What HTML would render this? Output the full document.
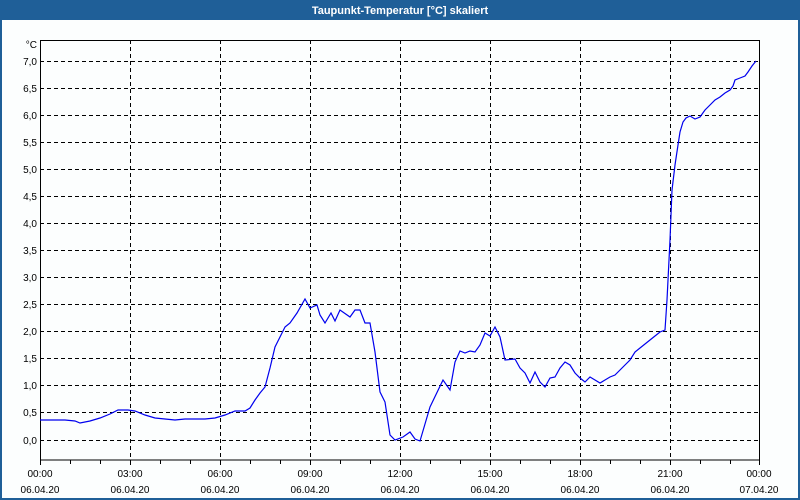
<!DOCTYPE html>
<html><head><meta charset="utf-8"><style>
html,body{margin:0;padding:0;background:#fff}
body{width:800px;height:500px;overflow:hidden;position:relative;font-family:"Liberation Sans",sans-serif}
</style></head><body>
<svg width="800" height="500" xmlns="http://www.w3.org/2000/svg" style="position:absolute;left:0;top:0">
<rect x="0" y="0" width="800" height="500" fill="#1f5f98"/>
<rect x="2" y="20" width="796" height="478" fill="#fcfefe"/>
<text x="400" y="14" fill="#fff" font-size="11" font-weight="bold" text-anchor="middle" font-family="Liberation Sans,sans-serif">Taupunkt-Temperatur [°C] skaliert</text>
<g stroke="#000" stroke-width="1" stroke-dasharray="4,3" fill="none">
<path d="M40 61.5H760M40 88.5H760M40 115.5H760M40 142.5H760M40 169.5H760M40 196.5H760M40 223.5H760M40 250.5H760M40 277.5H760M40 304.5H760M40 331.5H760M40 358.5H760M40 385.5H760M40 412.5H760M40 440.5H760"/>
<path d="M130.5 40V460M220.5 40V460M310.5 40V460M400.5 40V460M490.5 40V460M580.5 40V460M670.5 40V460"/>
</g>
<rect x="40.5" y="40.5" width="719" height="419.5" fill="none" stroke="#000"/>
<g stroke="#000"><path d="M40.5 460V465M70.5 460V464M100.5 460V464M130.5 460V465M160.5 460V464M190.5 460V464M220.5 460V465M250.5 460V464M280.5 460V464M310.5 460V465M340.5 460V464M370.5 460V464M400.5 460V465M430.5 460V464M460.5 460V464M490.5 460V465M520.5 460V464M550.5 460V464M580.5 460V465M610.5 460V464M640.5 460V464M670.5 460V465M700.5 460V464M730.5 460V464M759.5 460V465"/></g>
<g font-size="10" fill="#000" text-anchor="end" font-family="Liberation Sans,sans-serif">
<text x="37" y="48">°C</text>
<text x="37" y="65">7,0</text><text x="37" y="92">6,5</text><text x="37" y="119">6,0</text><text x="37" y="146">5,5</text><text x="37" y="173">5,0</text><text x="37" y="200">4,5</text><text x="37" y="227">4,0</text><text x="37" y="254">3,5</text><text x="37" y="281">3,0</text><text x="37" y="308">2,5</text><text x="37" y="335">2,0</text><text x="37" y="362">1,5</text><text x="37" y="389">1,0</text><text x="37" y="416">0,5</text><text x="37" y="444">0,0</text>
</g>
<g font-size="10" fill="#000" text-anchor="middle" font-family="Liberation Sans,sans-serif">
<text x="40" y="477">00:00</text><text x="40" y="493">06.04.20</text>
<text x="130" y="477">03:00</text><text x="130" y="493">06.04.20</text>
<text x="220" y="477">06:00</text><text x="220" y="493">06.04.20</text>
<text x="310" y="477">09:00</text><text x="310" y="493">06.04.20</text>
<text x="400" y="477">12:00</text><text x="400" y="493">06.04.20</text>
<text x="490" y="477">15:00</text><text x="490" y="493">06.04.20</text>
<text x="580" y="477">18:00</text><text x="580" y="493">06.04.20</text>
<text x="670" y="477">21:00</text><text x="670" y="493">06.04.20</text>
<text x="759" y="477">00:00</text><text x="759" y="493">07.04.20</text>
</g>
<polyline fill="none" stroke="#0000ee" stroke-width="1.2" points="40,420 65,420 75,421 80,423 90,421 100,418 110,414 118,410 128,410 135,411 145,415 155,418 165,419 175,420 185,419 195,419 205,419 215,418 225,415 235,411 245,411 250,408 255,400 260,393 265,387 270,368 275,347 280,337 285,327 290,323 297,313 305,299 310,308 317,305 320,315 325,323 331,313 335,321 340,310 350,317 355,310 360,310 365,323 370,323 375,352 380,392 385,402 390,435 395,440 403,437 410,432 415,439 420,441 430,407 443,380 450,390 455,362 460,351 465,353 470,351 475,352 480,345 485,333 490,336 495,327 500,337 505,360 515,359 520,368 525,373 530,383 535,372 540,382 545,387 550,378 555,377 560,368 565,362 570,365 575,373 580,378 585,382 590,377 595,380 600,383 605,380 610,377 615,375 620,370 625,365 630,360 635,352 640,348 645,344 650,340 655,336 660,332 665,330 667,300 670,240 672,190 675,165 678,145 680,132 683,122 686,118 690,116 695,119 700,117 705,110 710,105 715,100 720,97 725,93 730,90 733,86 735,80 740,78 745,76 748,72 752,66 756,61"/>
</svg>
</body></html>
